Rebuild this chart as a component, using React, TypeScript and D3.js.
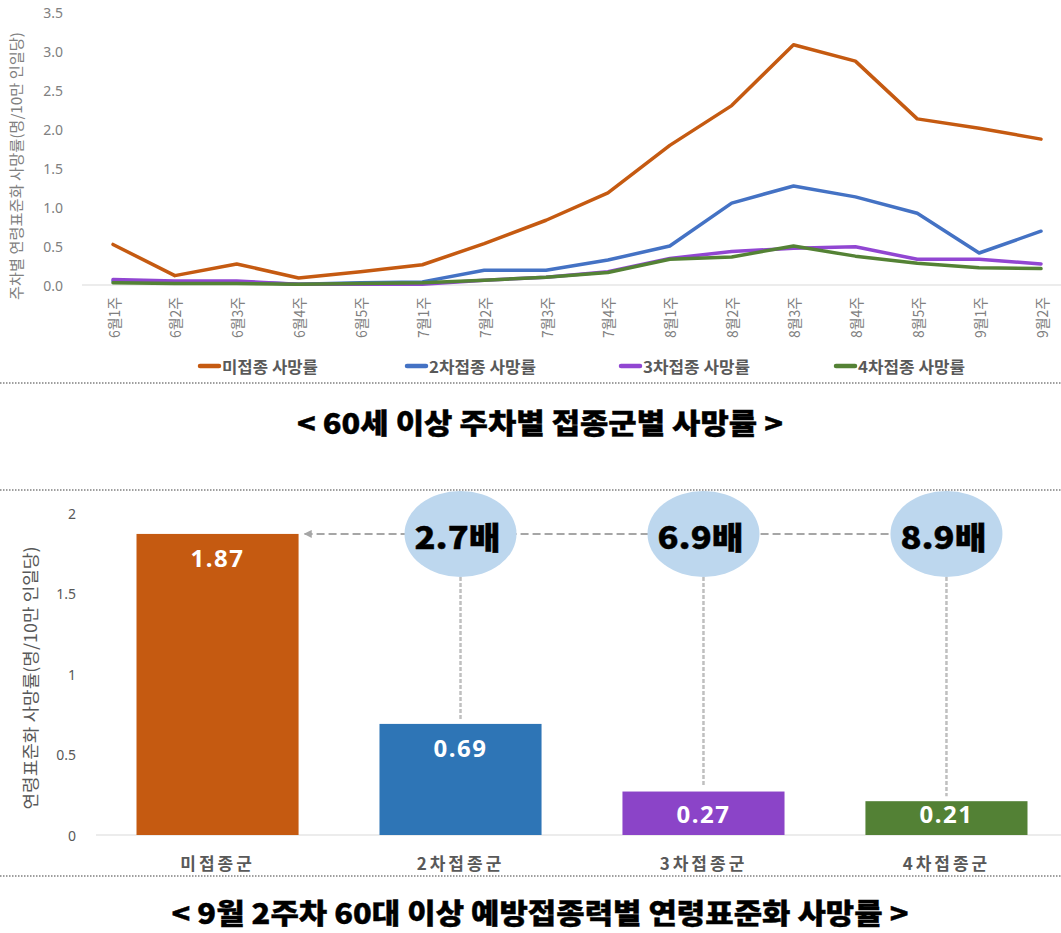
import React from "react";
import * as d3 from "d3";

const weeks = ["6월1주","6월2주","6월3주","6월4주","6월5주","7월1주","7월2주","7월3주","7월4주","8월1주","8월2주","8월3주","8월4주","8월5주","9월1주","9월2주"];
const unvaccinated = [0.52,0.12,0.27,0.09,0.17,0.26,0.53,0.83,1.18,1.79,2.30,3.08,2.87,2.13,2.01,1.87];
const dose2 = [0.05,0.04,0.04,0.01,0.03,0.04,0.19,0.19,0.32,0.50,1.05,1.27,1.13,0.92,0.41,0.69];
const dose3 = [0.07,0.05,0.05,0.01,0.01,0.01,0.06,0.10,0.17,0.34,0.43,0.47,0.49,0.33,0.33,0.27];
const dose4 = [0.03,0.02,0.02,0.01,0.02,0.03,0.06,0.10,0.16,0.33,0.36,0.50,0.37,0.28,0.22,0.21];
const seriesNames = ["미접종 사망률","2차접종 사망률","3차접종 사망률","4차접종 사망률"];
const seriesColors = ["#C55A11","#4472C4","#9146D2","#548235"];
const topTicks = [0,0.5,1,1.5,2,2.5,3,3.5];

const groups = ["미접종군","2차접종군","3차접종군","4차접종군"];
const rates = [1.87,0.69,0.27,0.21];
const barColors = ["#C55A11","#2E75B6","#8B44C8","#538135"];
const ratioLabels = ["2.7배","6.9배","8.9배"];
const bottomTicks = [0,0.5,1,1.5,2];

const W = 1061;
const H = 933;
const KR = "'Noto Sans CJK KR', 'Noto Sans', sans-serif";
const NUM = "'Noto Sans', 'Open Sans', sans-serif";

export default function App() {
  // top chart scales
  const x = d3.scalePoint<string>().domain(weeks).range([113, 1041]);
  const y = d3.scaleLinear().domain([0, 3.5]).range([285, 12]);
  const line = d3.line<number>().x((_, i) => x(weeks[i]) as number).y((d) => y(d));
  const allSeries = [unvaccinated, dose2, dose3, dose4];
  const legendX = [198, 405, 619, 834];

  // bottom chart scales
  const xb = d3.scaleBand<string>().domain(groups).range([96, 1068]).paddingInner(0.333).paddingOuter(0.1667);
  const yb = d3.scaleLinear().domain([0, 2]).range([835, 513]);
  const bw = xb.bandwidth();
  const refY = yb(rates[0]);
  const rx = 56, ry = 43;
  const lastCx = (xb(groups[groups.length - 1]) as number) + bw / 2;

  return (
    <svg width={W} height={H} style={{ position: "absolute", left: 0, top: 0, background: "#fff" }}>
      <defs>
        <marker id="arr" viewBox="0 0 10 10" refX="1" refY="5" markerWidth="4" markerHeight="4" orient="auto">
          <path d="M10,0 L0,5 L10,10 z" fill="#a6a6a6" />
        </marker>
      </defs>
      <rect width={W} height={H} fill="#fff" />

      {/* ===== Top chart ===== */}
      <text transform={`translate(15,166) rotate(-90)`} textAnchor="middle" dominantBaseline="central"
        fontFamily={KR} fontSize={14.5} fill="#808080" textLength={268} lengthAdjust="spacingAndGlyphs">주차별 연령표준화 사망률(명/10만 인일당)</text>
      {topTicks.map((t) => (
        <text key={t} x={63} y={y(t)} textAnchor="end" dominantBaseline="central"
          fontFamily={NUM} fontSize={14} fill="#808080">{d3.format(".1f")(t)}</text>
      ))}
      <line x1={82} x2={W} y1={y(0)} y2={y(0)} stroke="#d9d9d9" strokeWidth={1} />
      {weeks.map((w) => (
        <text key={w} transform={`translate(${x(w)},297) rotate(-90)`} textAnchor="end" dominantBaseline="central"
          fontFamily={KR} fontSize={15} fill="#808080" textLength={41} lengthAdjust="spacingAndGlyphs">{w}</text>
      ))}
      {allSeries.map((s, i) => (
        <path key={i} d={line(s) as string} fill="none" stroke={seriesColors[i]} strokeWidth={3.5}
          strokeLinejoin="round" strokeLinecap="round" />
      ))}
      {seriesNames.map((n, i) => (
        <g key={n}>
          <line x1={legendX[i] + 2} x2={legendX[i] + 21} y1={366} y2={366} stroke={seriesColors[i]} strokeWidth={4.5} strokeLinecap="round" />
          <text x={legendX[i] + 24} y={366} dominantBaseline="central" fontFamily={KR} fontSize={15.5}
            fontWeight={600} fill="#595959" textLength={i === 0 ? 96 : 107} lengthAdjust="spacingAndGlyphs">{n}</text>
        </g>
      ))}
      <line x1={0} x2={W} y1={383} y2={383} stroke="#808080" strokeWidth={1.5} strokeDasharray="1.5,1.5" />
      <text x={540} y={422} textAnchor="middle" dominantBaseline="central" fontFamily={KR} fontSize={28}
        fontWeight={900} fill="#000" stroke="#000" strokeWidth={0.4} textLength={486} lengthAdjust="spacingAndGlyphs">&lt; 60세 이상 주차별 접종군별 사망률 &gt;</text>

      {/* ===== Bottom chart ===== */}
      <line x1={0} x2={W} y1={490} y2={490} stroke="#808080" strokeWidth={1.5} strokeDasharray="1.5,1.5" />
      <text transform={`translate(29,678) rotate(-90)`} textAnchor="middle" dominantBaseline="central"
        fontFamily={KR} fontSize={17} fill="#595959" textLength={263} lengthAdjust="spacingAndGlyphs">연령표준화 사망률(명/10만 인일당)</text>
      {bottomTicks.map((t) => (
        <text key={t} x={76} y={yb(t)} textAnchor="end" dominantBaseline="central"
          fontFamily={NUM} fontSize={14} fill="#595959">{d3.format("")(t)}</text>
      ))}
      <line x1={96} x2={W} y1={yb(0)} y2={yb(0)} stroke="#d9d9d9" strokeWidth={1} />
      {groups.map((g, i) => {
        const bx = xb(g) as number;
        const top = yb(rates[i]);
        const ly = Math.min(top + 24, yb(0) - 22);
        return (
          <g key={g}>
            <rect x={bx} y={top} width={bw} height={yb(0) - top} fill={barColors[i]} />
            <text x={bx + bw / 2} y={ly} textAnchor="middle" dominantBaseline="central" fontFamily={NUM}
              fontSize={24} fontWeight={700} fill="#fff" letterSpacing={1.5}>{d3.format(".2f")(rates[i])}</text>
            <text x={bx + bw / 2} y={862} textAnchor="middle" dominantBaseline="central" fontFamily={KR}
              fontSize={17} fontWeight={700} fill="#595959" letterSpacing={3}>{g}</text>
          </g>
        );
      })}
      {/* reference dashed line */}
      <line x1={(xb(groups[0]) as number) + bw + 6} x2={lastCx - rx} y1={refY} y2={refY}
        stroke="#a6a6a6" strokeWidth={2} strokeDasharray="8,4" markerStart="url(#arr)" />
      {ratioLabels.map((r, k) => {
        const i = k + 1;
        const cx = (xb(groups[i]) as number) + bw / 2;
        const top = yb(rates[i]);
        return (
          <g key={r}>
            <line x1={cx} x2={cx} y1={refY + ry} y2={top - 5} stroke="#bfbfbf" strokeWidth={2.5} strokeDasharray="4,2" />
            <ellipse cx={cx} cy={refY} rx={rx} ry={ry} fill="#BDD7EE" />
            <text x={cx - 3} y={refY + 2} textAnchor="middle" dominantBaseline="central" fontFamily={KR}
              fontSize={31} fontWeight={900} fill="#000" stroke="#000" strokeWidth={0.4} textLength={86} lengthAdjust="spacingAndGlyphs">{r}</text>
          </g>
        );
      })}
      <line x1={0} x2={W} y1={876} y2={876} stroke="#808080" strokeWidth={1.5} strokeDasharray="1.5,1.5" />
      <text x={540} y={912} textAnchor="middle" dominantBaseline="central" fontFamily={KR} fontSize={28}
        fontWeight={900} fill="#000" stroke="#000" strokeWidth={0.4} textLength={737} lengthAdjust="spacingAndGlyphs">&lt; 9월 2주차 60대 이상 예방접종력별 연령표준화 사망률 &gt;</text>
    </svg>
  );
}
